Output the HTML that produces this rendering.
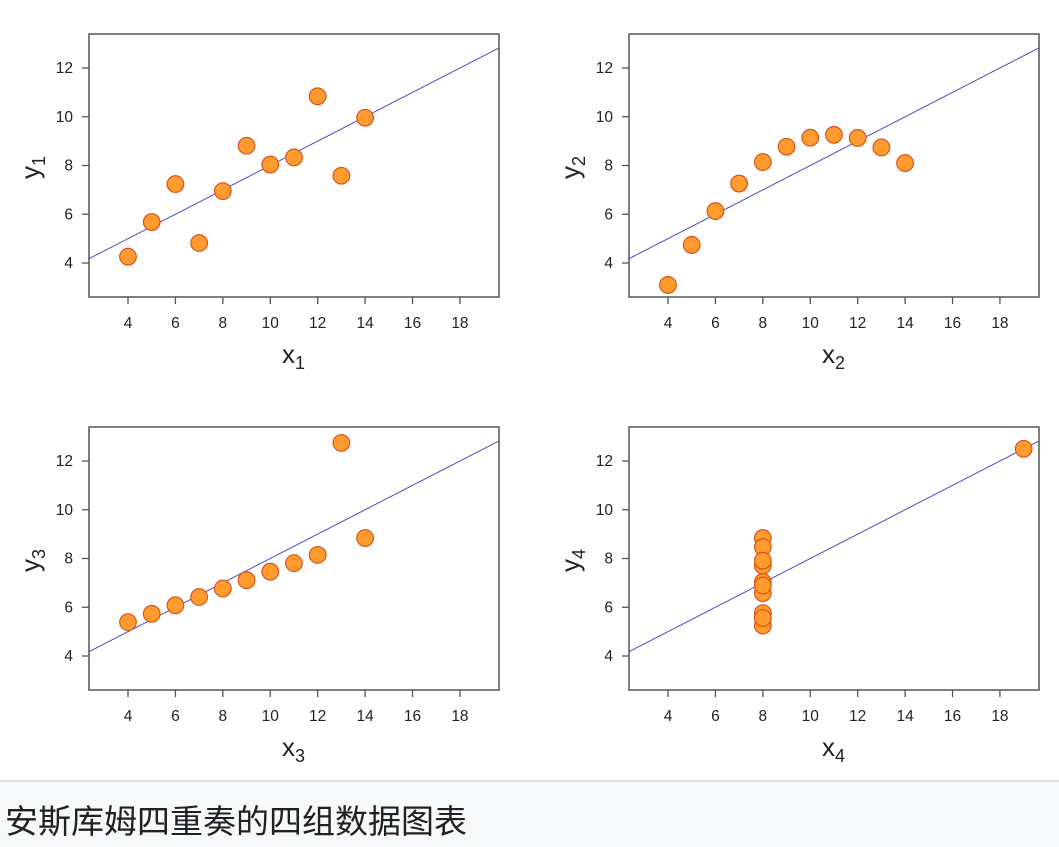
<!DOCTYPE html>
<html><head><meta charset="utf-8"><style>
html,body{margin:0;padding:0;background:#fff;width:1059px;height:847px;overflow:hidden}
#cap{position:absolute;left:0;top:780px;width:1059px;height:67px;background:#f8f9fa;border-top:2px solid #dcdde0;box-sizing:border-box}
#cap span{position:absolute;left:5px;top:13px;font-family:"Liberation Sans","Noto Sans CJK SC",sans-serif;font-size:33px;color:#202122}
svg{position:absolute;left:0;top:0}
</style></head><body>
<svg id="s" width="1059" height="780" xmlns="http://www.w3.org/2000/svg" font-family="Liberation Sans, Arial, sans-serif"></svg>
<div id="cap"><span>安斯库姆四重奏的四组数据图表</span></div>
<script>
var X=[10,8,13,9,11,14,6,4,12,7,5];
var D=[
[X,[8.04,6.95,7.58,8.81,8.33,9.96,7.24,4.26,10.84,4.82,5.68]],
[X,[9.14,8.14,8.74,8.77,9.26,8.10,6.13,3.10,9.13,7.26,4.74]],
[X,[7.46,6.77,12.74,7.11,7.81,8.84,6.08,5.39,8.15,6.42,5.73]],
[[8,8,8,8,8,8,8,19,8,8,8],[6.58,5.76,7.71,8.84,8.47,7.04,5.25,12.50,5.56,7.91,6.89]]];
var h='';
for(var k=0;k<4;k++){
 var ox=(k%2)*540, oy=Math.floor(k/2)*393;
 var L=89+ox,R=499+ox,T=34+oy,B=297+oy;
 var fx=function(x){return 128+ox+(x-4)*23.71};
 var fy=function(y){return 263+oy-(y-4)*24.375};
 h+='<defs><clipPath id="c'+k+'"><rect x="'+L+'" y="'+T+'" width="'+(R-L)+'" height="'+(B-T)+'"/></clipPath></defs>';
 h+='<line clip-path="url(#c'+k+')" x1="'+fx(2)+'" y1="'+fy(4)+'" x2="'+fx(20)+'" y2="'+fy(13)+'" stroke="#4b4bd0" stroke-width="1"/>';
 h+='<rect x="'+L+'" y="'+T+'" width="'+(R-L)+'" height="'+(B-T)+'" fill="none" stroke="#555" stroke-width="1.5"/>';
 for(var t=4;t<=18;t+=2){var px=fx(t);h+='<line x1="'+px+'" y1="'+B+'" x2="'+px+'" y2="'+(B+7)+'" stroke="#555" stroke-width="1.3"/><text x="'+px+'" y="'+(B+31)+'" font-size="15.5" text-anchor="middle" fill="#222">'+t+'</text>';}
 for(var t=4;t<=12;t+=2){var py=fy(t);h+='<line x1="'+(L-7)+'" y1="'+py+'" x2="'+L+'" y2="'+py+'" stroke="#555" stroke-width="1.3"/><text x="'+(L-16)+'" y="'+(py+5)+'" font-size="15.5" text-anchor="end" fill="#222">'+t+'</text>';}
 var n=k+1;
 h+='<text x="'+(282+ox)+'" y="'+(363+oy)+'" font-size="26" fill="#222">x<tspan font-size="18" dy="6">'+n+'</tspan></text>';
 h+='<text transform="translate('+(39+ox)+','+(179+oy)+') rotate(-90)" font-size="26" fill="#222">y<tspan font-size="18" dy="6">'+n+'</tspan></text>';
 for(var i=0;i<11;i++){h+='<circle cx="'+fx(D[k][0][i])+'" cy="'+fy(D[k][1][i])+'" r="8.3" fill="#ff9b2f" stroke="#d9541a" stroke-width="1.2"/>';}
}
document.getElementById('s').innerHTML=h;
</script>
</body></html>
